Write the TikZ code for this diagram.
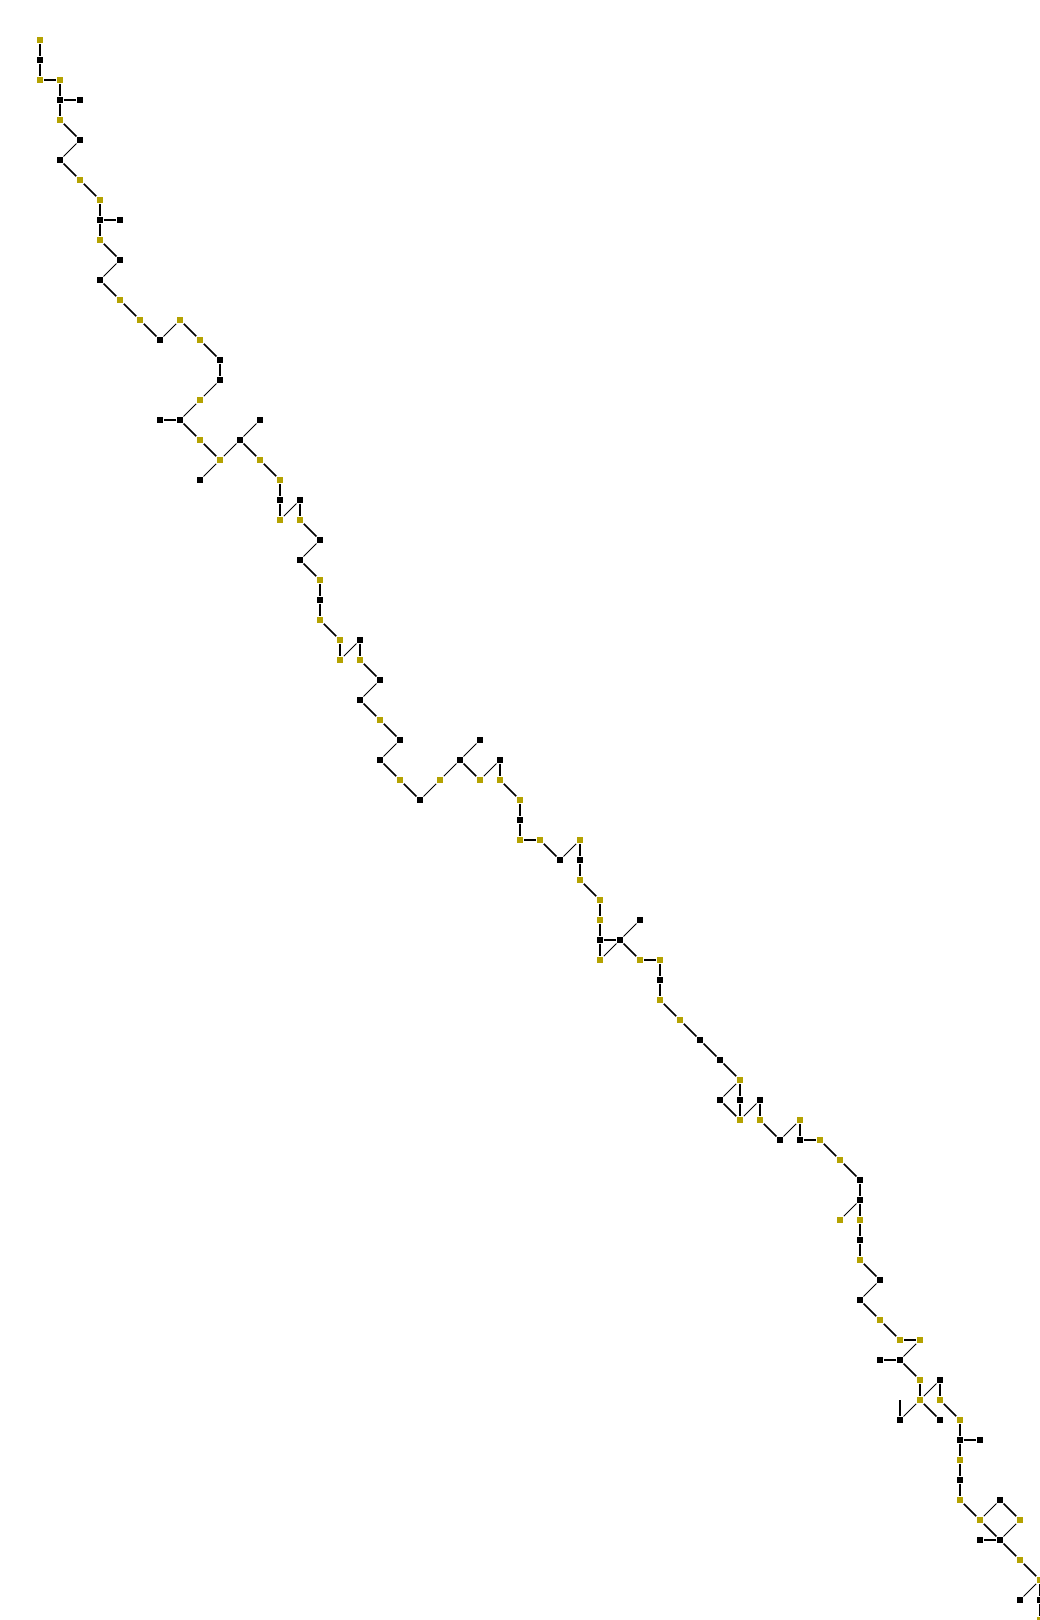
\documentclass[tikz,border=0pt]{standalone}
\usepackage[dvipsnames]{xcolor}
\usetikzlibrary{positioning}

\definecolor{nodeyellow}{RGB}{180,162,0}

\begin{document}
\begin{tikzpicture}[-,on grid,node distance=20bp and 20bp,line width=1.6bp,black node/.style={rectangle,fill=black,inner sep=0pt,minimum size=5.5bp},yellow node/.style={rectangle,fill=nodeyellow,inner sep=0pt,minimum size=6bp},thin edge/.style={line width=1bp}]

            \useasboundingbox (-40bp,40bp) rectangle (1000bp,-1580bp);

            \node[yellow node] (1) at (0,0){};
            \node[black node] (2) [below = of 1]{};
            \node[yellow node] (3) [below = of 2]{};
            \node[yellow node] (4) [right = of 3]{};
            \node[black node] (5) [below = of 4]{};
            \node[black node] (6) [right = of 5]{};
            \node[yellow node] (7) [below = of 5]{};
            \node[black node] (8) [below right = of 7]{};
            \node[black node] (9) [below left = of 8]{};
            \node[yellow node] (10) [below right = of 9]{};
            \node[yellow node] (11) [below right = of 10]{};
            \node[black node] (12) [below = of 11]{};
            \node[black node] (13) [right = of 12]{};
            \node[yellow node] (14) [below = of 12]{};
            \node[black node] (15) [below right = of 14]{};
            \node[black node] (16) [below left = of 15]{};
            \node[yellow node] (17) [below right = of 16]{};
            \node[yellow node] (18) [below right = of 17]{};
            \node[black node] (19) [below right = of 18]{};
            \node[yellow node] (20) [above right = of 19]{};
            \node[yellow node] (21) [below right = of 20]{};
            \node[black node] (22) [below right = of 21]{};
            \node[black node] (23) [below = of 22]{};
            \node[yellow node] (24) [below left = of 23]{};
            \node[black node] (25) [below left = of 24]{};
            \node[black node] (26) [left = of 25]{};
            \node[yellow node] (27) [below right = of 25]{};
            \node[yellow node] (28) [below right = of 27]{};
            \node[black node] (29) [below left = of 28]{};
            \node[black node] (30) [above right = of 28]{};
            \node[black node] (31) [above right = of 30]{};
            \node[yellow node] (32) [below right = of 30]{};
            \node[yellow node] (33) [below right = of 32]{};
            \node[black node] (34) [below = of 33]{};
            \node[yellow node] (35) [below = of 34]{};
            \node[black node] (36) [above right = of 35]{};
            \node[yellow node] (37) [below = of 36]{};
            \node[black node] (38) [below right = of 37]{};
            \node[black node] (39) [below left = of 38]{};
            \node[yellow node] (40) [below right = of 39]{};
            \node[black node] (41) [below = of 40]{};
            \node[yellow node] (42) [below = of 41]{};
            \node[yellow node] (43) [below right = of 42]{};
            \node[yellow node] (44) [below = of 43]{};
            \node[black node] (45) [above right = of 44]{};
            \node[yellow node] (46) [below = of 45]{};
            \node[black node] (47) [below right = of 46]{};
            \node[black node] (48) [below left = of 47]{};
            \node[yellow node] (49) [below right = of 48]{};
            \node[black node] (50) [below right = of 49]{};
            \node[black node] (51) [below left = of 50]{};
            \node[yellow node] (52) [below right = of 51]{};
            \node[black node] (53) [below right = of 52]{};
            \node[yellow node] (54) [above right = of 53]{};
            \node[black node] (55) [above right = of 54]{};
            \node[black node] (56) [above right = of 55]{};
            \node[yellow node] (57) [below right = of 55]{};
            \node[black node] (58) [above right = of 57]{};
            \node[yellow node] (59) [below = of 58]{};
            \node[yellow node] (60) [below right = of 59]{};
            \node[black node] (61) [below = of 60]{};
            \node[yellow node] (62) [below = of 61]{};
            \node[yellow node] (63) [right = of 62]{};
            \node[black node] (64) [below right = of 63]{};
            \node[yellow node] (65) [above right = of 64]{};
            \node[black node] (66) [below = of 65]{};
            \node[yellow node] (67) [below = of 66]{};
            \node[yellow node] (68) [below right = of 67]{};
            \node[yellow node] (69) [below = of 68]{};
            \node[black node] (70) [below = of 69]{};
            \node[black node] (71) [right = of 70]{};
            \node[yellow node] (72) [below = of 70]{};
            \node[black node] (73) [above right = of 71]{};
            \node[yellow node] (74) [below right = of 71]{};
            \node[yellow node] (75) [right = of 74]{};
            \node[black node] (76) [below = of 75]{};
            \node[yellow node] (77) [below = of 76]{};
            \node[yellow node] (78) [below right = of 77]{};
            \node[black node] (79) [below right = of 78]{};
            \node[black node] (80) [below right = of 79]{};
            \node[yellow node] (81) [below right = of 80]{};
            \node[black node] (82) [below left = of 81]{};
            \node[black node] (83) [below = of 81]{};
            \node[yellow node] (84) [below = of 83]{};
            \node[black node] (85) [above right = of 84]{};
            \node[yellow node] (86) [below = of 85]{};
            \node[black node] (87) [below right = of 86]{};
            \node[yellow node] (88) [above right = of 87]{};
            \node[black node] (89) [below = of 88]{};
            \node[yellow node] (90) [right = of 89]{};
            \node[yellow node] (91) [below right = of 90]{};
            \node[black node] (92) [below right = of 91]{};
            \node[black node] (93) [below = of 92]{};
            \node[yellow node] (94) [below left = of 93]{};
            \node[yellow node] (95) [below = of 93]{};
            \node[black node] (96) [below = of 95]{};
            \node[yellow node] (97) [below = of 96]{};
            \node[black node] (98) [below right = of 97]{};
            \node[black node] (99) [below left = of 98]{};
            \node[yellow node] (100) [below right = of 99]{};
            \node[yellow node] (101) [below right = of 100]{};
            \node[yellow node] (102) [right = of 101]{};
            \node[black node] (103) [below left = of 102]{};
            \node[black node] (104) [left = of 103]{};
            \node[yellow node] (105) [below right = of 103]{};
            \node[yellow node] (106) [below = of 105]{};
            \node[black node] (107) [above right = of 106]{};
            \node[yellow node] (108) [below = of 107]{};
            \node[black node] (109) [below left = of 106]{};
            \coordinate[above = of 109] (109 end);
            \node[black node] (110) [below right = of 106]{};
            \node[yellow node] (111) [below right = of 108]{};
            \node[black node] (112) [below = of 111]{};
            \node[black node] (113) [right = of 112]{};
            \node[yellow node] (114) [below = of 112]{};
            \node[black node] (115) [below = of 114]{};
            \node[yellow node] (116) [below = of 115]{};
            \node[yellow node] (117) [below right = of 116]{};
            \node[black node] (118) [above right = of 117]{};
            \node[yellow node] (119) [below right = of 118]{};
            \node[black node] (120) [below right = of 117]{};
            \node[black node] (121) [left = of 120]{};
            \node[yellow node] (122) [below right = of 120]{};
            \node[yellow node] (123) [below right = of 122]{};
            \node[black node] (124) [below left = of 123]{};
            \node[black node] (125) [below = of 123]{};
            \node[yellow node] (126) [below = of 125]{};

            \draw (1) to (2);
            \draw (2) to (3);
            \draw (3) to (4);
            \draw (4) to (5);
            \draw (5) to (6);
            \draw (5) to (7);
            \draw (7) to (8);
            \draw[thin edge] (8) to (9);
            \draw (9) to (10);
            \draw (10) to (11);
            \draw (11) to (12);
            \draw (12) to (13);
            \draw (12) to (14);
            \draw (14) to (15);
            \draw[thin edge] (15) to (16);
            \draw (16) to (17);
            \draw (17) to (18);
            \draw (18) to (19);
            \draw[thin edge] (19) to (20);
            \draw (20) to (21);
            \draw (21) to (22);
            \draw (22) to (23);
            \draw[thin edge] (23) to (24);
            \draw[thin edge] (24) to (25);
            \draw (25) to (26);
            \draw (25) to (27);
            \draw (27) to (28);
            \draw[thin edge] (28) to (29);
            \draw[thin edge] (28) to (30);
            \draw[thin edge] (30) to (31);
            \draw (30) to (32);
            \draw (32) to (33);
            \draw (33) to (34);
            \draw (34) to (35);
            \draw[thin edge] (35) to (36);
            \draw (36) to (37);
            \draw (37) to (38);
            \draw[thin edge] (38) to (39);
            \draw (39) to (40);
            \draw (40) to (41);
            \draw (41) to (42);
            \draw (42) to (43);
            \draw (43) to (44);
            \draw[thin edge] (44) to (45);
            \draw (45) to (46);
            \draw (46) to (47);
            \draw[thin edge] (47) to (48);
            \draw (48) to (49);
            \draw (49) to (50);
            \draw[thin edge] (50) to (51);
            \draw (51) to (52);
            \draw (52) to (53);
            \draw[thin edge] (53) to (54);
            \draw[thin edge] (54) to (55);
            \draw[thin edge] (55) to (56);
            \draw (55) to (57);
            \draw[thin edge] (57) to (58);
            \draw (58) to (59);
            \draw (59) to (60);
            \draw (60) to (61);
            \draw (61) to (62);
            \draw (62) to (63);
            \draw (63) to (64);
            \draw[thin edge] (64) to (65);
            \draw (65) to (66);
            \draw (66) to (67);
            \draw (67) to (68);
            \draw (68) to (69);
            \draw (69) to (70);
            \draw (70) to (71);
            \draw (70) to (72);
            \draw[thin edge] (72) to (71);
            \draw[thin edge] (71) to (73);
            \draw (71) to (74);
            \draw (74) to (75);
            \draw (75) to (76);
            \draw (76) to (77);
            \draw (77) to (78);
            \draw (78) to (79);
            \draw (79) to (80);
            \draw (80) to (81);
            \draw[thin edge] (81) to (82);
            \draw (81) to (83);
            \draw (83) to (84);
            \draw (82) to (84);
            \draw[thin edge] (84) to (85);
            \draw (85) to (86);
            \draw (86) to (87);
            \draw[thin edge] (87) to (88);
            \draw (88) to (89);
            \draw (89) to (90);
            \draw (90) to (91);
            \draw (91) to (92);
            \draw (92) to (93);
            \draw[thin edge] (93) to (94);
            \draw (93) to (95);
            \draw (95) to (96);
            \draw (96) to (97);
            \draw (97) to (98);
            \draw[thin edge] (98) to (99);
            \draw (99) to (100);
            \draw (100) to (101);
            \draw (101) to (102);
            \draw[thin edge] (102) to (103);
            \draw (103) to (104);
            \draw (103) to (105);
            \draw (105) to (106);
            \draw[thin edge] (106) to (107);
            \draw (107) to (108);
            \draw[thin edge] (106) to (109);
            \draw (109) to (109 end);
            \draw (106) to (110);
            \draw (108) to (111);
            \draw (111) to (112);
            \draw (112) to (113);
            \draw (112) to (114);
            \draw (114) to (115);
            \draw (115) to (116);
            \draw (116) to (117);
            \draw[thin edge] (117) to (118);
            \draw (118) to (119);
            \draw[thin edge] (119) to (120);
            \draw (117) to (120);
            \draw (120) to (121);
            \draw (120) to (122);
            \draw (122) to (123);
            \draw[thin edge] (123) to (124);
            \draw (123) to (125);
            \draw (125) to (126);

            ;
        \end{tikzpicture}
\end{document}
